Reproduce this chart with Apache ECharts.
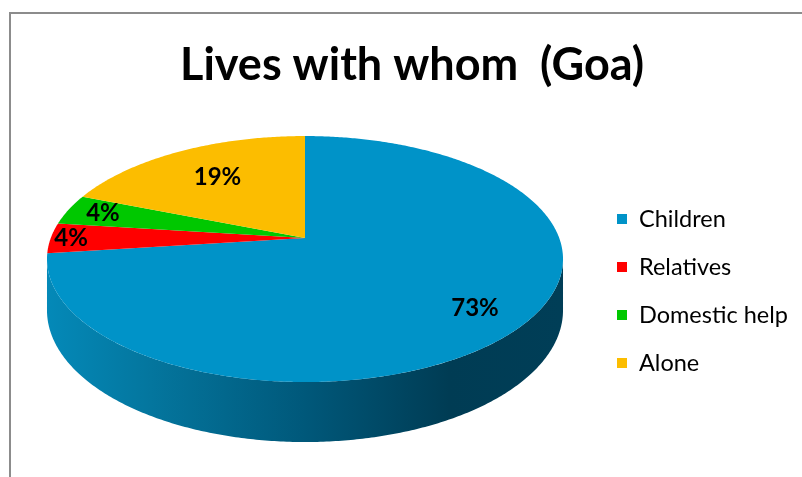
<!DOCTYPE html>
<html>
<head>
<meta charset="utf-8">
<script src="https://cdn.jsdelivr.net/npm/echarts@6/dist/echarts.min.js"></script>
<style>
  html, body { margin: 0; padding: 0; background: #ffffff; }
  #chart { width: 802px; height: 477px; }
</style>
</head>
<body>
<div id="chart"></div>
<script>
// Living arrangement shares (percent)
const categories = ['Children', 'Relatives', 'Domestic help', 'Alone'];
const shares = [73, 4, 4, 19];
const sliceColors = ['#0093C8', '#FF0000', '#00C800', '#FCBD00'];
// how far out along each slice the percentage label sits (fraction of radius)
const labelRadius = [0.81, 0.92, 0.85, 0.67];

// Perspective projection of a tilted disc (angles measured clockwise from 12 o'clock)
const CX = 305;          // screen x of the pie axis
const DIST = 5.857;      // camera distance in radii
const SX = 1489;         // horizontal focal scale
const HORIZON = -461.4;  // screen y of the horizon
const TOP_F = 4096.6;    // vertical focal scale of the top face
const BOT_F = 4388;      // vertical focal scale of the bottom face

function project(theta, r, face) {
  const X = r * Math.sin(theta);
  const Z = r * Math.cos(theta);
  const s = 1 / (DIST + Z);
  return [CX + SX * X * s, HORIZON + (face === 'bottom' ? BOT_F : TOP_F) * s];
}

const total = shares.reduce((a, b) => a + b, 0);
const startAngles = [];
let acc = 0;
shares.forEach(v => { startAngles.push(acc / total * Math.PI * 2); acc += v; });

// visible part of the side wall lies between the two silhouette tangents
const wallFrom = Math.acos(-1 / DIST);
const wallTo = Math.PI * 2 - wallFrom;

function arc(a0, a1, face) {
  const pts = [];
  const n = Math.max(2, Math.ceil((a1 - a0) / 0.01));
  for (let k = 0; k <= n; k++) pts.push(project(a0 + (a1 - a0) * k / n, 1, face));
  return pts;
}

const wallFill = {
  type: 'linear', x: 47, y: 0, x2: 563, y2: 0, global: true,
  colorStops: [
    { offset: 0, color: '#0489B8' },
    { offset: 0.2, color: '#04769E' },
    { offset: 0.5, color: '#00587A' },
    { offset: 0.78, color: '#003C54' },
    { offset: 1, color: '#003E57' }
  ]
};

function renderSlice(params, api) {
  const i = api.value(0);
  const a0 = startAngles[i];
  const a1 = a0 + shares[i] / total * Math.PI * 2;
  const children = [];
  const w0 = Math.max(a0, wallFrom), w1 = Math.min(a1, wallTo);
  if (w1 > w0) {
    const top = arc(w0, w1, 'top');
    const bot = arc(w0, w1, 'bottom').reverse();
    children.push({
      type: 'polygon',
      shape: { points: top.concat(bot) },
      style: { fill: wallFill, stroke: null }
    });
  }
  const face = [project(0, 0, 'top')].concat(arc(a0, a1, 'top'));
  children.push({
    type: 'polygon',
    shape: { points: face },
    style: { fill: sliceColors[i], stroke: null }
  });
  return { type: 'group', children: children };
}

function renderLabel(params, api) {
  const i = api.value(0);
  const a0 = startAngles[i];
  const mid = a0 + shares[i] / total * Math.PI;
  const p = project(mid, labelRadius[i], 'top');
  return {
    type: 'text',
    x: p[0], y: p[1],
    style: {
      text: shares[i] + '%',
      fill: '#000000',
      font: 'bold 24px Lato',
      textAlign: 'center',
      textVerticalAlign: 'middle'
    }
  };
}

const series = categories.map((name, i) => ({
  type: 'custom',
  name: name,
  coordinateSystem: 'none',
  renderItem: renderSlice,
  itemStyle: { color: sliceColors[i] },
  data: [[i]],
  silent: true,
  animation: false
}));
series.push({
  type: 'custom',
  name: 'labels',
  coordinateSystem: 'none',
  renderItem: renderLabel,
  data: categories.map((c, i) => [i]),
  z: 10,
  silent: true,
  animation: false
});

const chart = echarts.init(document.getElementById('chart'), null, { renderer: 'canvas' });
chart.setOption({
  backgroundColor: '#ffffff',
  animation: false,
  title: {
    text: 'Lives with whom  (Goa)',
    left: 180,
    top: 43,
    padding: 0,
    textStyle: { fontFamily: 'Lato', fontWeight: 'bold', fontSize: 45, color: '#000000' }
  },
  legend: {
    data: categories,
    orient: 'vertical',
    left: 612,
    top: 202,
    itemWidth: 10,
    itemHeight: 10,
    itemGap: 24,
    icon: 'rect',
    selectedMode: false,
    textStyle: { fontFamily: 'Lato', fontSize: 23.5, color: '#000000', padding: [0, 0, 0, 7] }
  },
  graphic: [{
    type: 'rect',
    shape: { x: 10, y: 13, width: 900, height: 600 },
    style: { fill: null, stroke: '#8C8C8C', lineWidth: 2 },
    silent: true
  }],
  series: series
});
</script>
</body>
</html>
